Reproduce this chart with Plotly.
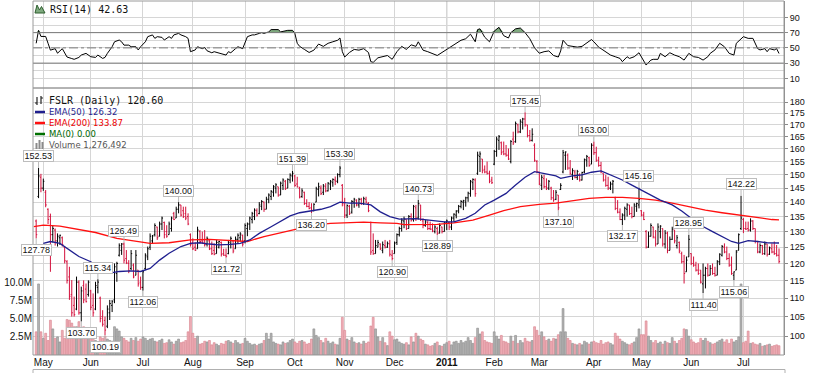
import math
import plotly.graph_objects as go

# ---------------- data (trading-day index 0 = 3 May 2010) ----------------
first_index = -3

bar_open = [
    133.5, 142.0, 149.0, 145.0, 143.5, 137.5, 135.0, 129.0, 130.5, 127.0,
    128.0, 128.0, 125.0, 120.5, 116.0, 111.0, 108.0, 107.0, 114.5, 106.0,
    113.5, 112.5, 111.0, 112.0, 108.0, 107.0, 113.0, 110.0, 105.0, 104.0,
    102.5, 106.0, 108.0, 109.5, 117.0, 122.5, 124.0, 126.0, 121.5, 120.0,
    118.5, 119.5, 116.5, 118.0, 114.5, 113.0, 118.5, 122.0, 125.0, 127.0,
    129.0, 131.5, 128.5, 132.5, 133.0, 130.0, 129.0, 131.0, 136.0, 134.5,
    137.5, 139.0, 137.0, 136.0, 135.0, 129.0, 126.5, 125.0, 124.5, 130.0,
    127.0, 127.0, 126.0, 127.0, 124.5, 124.0, 123.0, 125.0, 126.5, 123.0,
    122.5, 123.0, 126.0, 127.0, 124.5, 127.5, 128.0, 128.8, 127.0, 131.0,
    132.5, 134.0, 135.0, 137.0, 136.0, 138.5, 140.0, 137.5, 141.0, 142.0,
    143.5, 145.0, 145.5, 142.5, 146.0, 147.5, 145.0, 148.0, 149.5, 149.5,
    146.5, 145.0, 142.0, 143.5, 139.5, 138.5, 138.0, 137.0, 140.0, 144.5,
    145.0, 143.5, 145.5, 144.0, 146.5, 147.0, 148.0, 147.5, 150.0, 146.0,
    139.0, 135.5, 138.5, 136.5, 140.0, 140.5, 139.0, 141.0, 139.5, 141.0,
    139.5, 133.0, 124.0, 123.0, 125.0, 126.0, 124.0, 125.5, 125.0, 126.0,
    122.5, 123.0, 126.5, 129.0, 131.0, 133.5, 134.0, 131.0, 135.0, 134.0,
    138.0, 134.5, 139.0, 133.5, 132.0, 133.0, 131.0, 130.8, 130.0, 131.0,
    129.5, 131.5, 130.0, 133.0, 133.0, 131.5, 134.5, 135.5, 137.0, 138.5,
    140.0, 140.0, 141.5, 143.0, 147.0, 148.0, 150.5, 157.0, 156.0, 152.0,
    151.0, 150.5, 148.0, 154.0, 159.0, 163.5, 162.5, 159.0, 158.0, 157.5,
    155.0, 164.0, 163.0, 170.0, 167.0, 171.0, 172.5, 170.0, 165.5, 163.5,
    161.5, 155.0, 151.0, 146.0, 148.5, 145.5, 145.0, 145.0, 141.5, 141.0,
    142.5, 144.5, 151.0, 157.5, 157.5, 152.5, 150.0, 151.0, 149.0, 150.0,
    148.0, 151.0, 155.5, 156.5, 154.0, 161.5, 158.5, 155.5, 153.5, 150.5,
    148.0, 146.0, 145.0, 146.5, 141.5, 137.8, 136.5, 134.0, 135.5, 137.5,
    139.0, 136.0, 135.0, 138.5, 139.0, 137.0, 135.5, 130.0, 125.0, 128.5,
    131.5, 128.0, 126.0, 130.0, 131.0, 126.0, 129.5, 124.0, 127.5, 130.5,
    125.5, 126.5, 123.0, 120.5, 117.5, 122.0, 123.0, 120.0, 119.5, 118.0,
    118.0, 114.0, 116.5, 118.5, 116.5, 118.5, 117.0, 116.5, 120.5, 122.5,
    125.0, 123.5, 121.5, 119.5, 116.5, 118.0, 124.0, 131.0, 134.0, 131.0,
    131.0, 130.5, 133.5, 131.0, 126.8, 123.5, 125.5, 123.0, 126.0, 122.8,
    124.5, 123.5, 123.0, 122.5,
]
bar_high = [
    134.0, 152.53, 150.3, 148.5, 144.3, 137.8, 136.0, 132.0, 131.0, 129.4,
    129.0, 128.4, 125.2, 121.0, 119.0, 115.1, 110.4, 116.1, 115.0, 113.2,
    115.0, 114.1, 115.0, 112.3, 111.3, 114.6, 115.34, 110.4, 106.7, 105.0,
    108.0, 109.5, 109.5, 120.0, 120.5, 126.2, 126.3, 126.49, 124.1, 121.0,
    124.1, 120.0, 124.1, 118.0, 116.1, 118.0, 123.1, 125.2, 129.4, 128.9,
    132.7, 131.6, 133.3, 135.0, 133.3, 132.1, 133.3, 135.0, 136.6, 138.4,
    140.0, 139.0, 138.4, 138.4, 136.1, 129.4, 127.8, 126.5, 131.6, 130.5,
    130.0, 130.5, 128.4, 127.3, 126.8, 126.2, 127.3, 127.0, 126.8, 124.5,
    124.6, 127.3, 128.4, 127.3, 128.4, 129.4, 129.8, 129.0, 132.7, 133.0,
    135.0, 136.6, 137.8, 137.8, 140.0, 140.7, 140.2, 141.9, 143.1, 144.3,
    146.1, 146.8, 145.5, 147.4, 148.6, 148.0, 148.6, 150.5, 151.39, 149.9,
    149.2, 145.5, 144.9, 143.7, 141.0, 140.0, 139.6, 139.6, 145.5, 147.0,
    146.0, 146.5, 146.8, 147.2, 148.0, 148.6, 149.3, 150.5, 153.3, 146.5,
    141.5, 139.2, 139.0, 140.7, 141.5, 141.0, 141.5, 141.5, 141.9, 141.9,
    140.0, 133.3, 129.4, 127.3, 127.3, 126.2, 126.8, 127.3, 126.8, 127.3,
    124.1, 126.8, 129.4, 131.6, 134.4, 135.0, 134.0, 135.5, 136.1, 139.0,
    139.0, 140.73, 139.0, 134.4, 133.8, 133.8, 133.3, 132.7, 132.1, 131.6,
    132.7, 131.6, 133.3, 134.0, 133.3, 135.0, 136.1, 137.2, 139.0, 140.7,
    140.8, 141.9, 143.7, 148.0, 148.6, 148.6, 158.9, 159.0, 156.0, 153.5,
    155.0, 151.5, 149.2, 159.6, 165.0, 165.7, 163.0, 163.0, 161.6, 160.2,
    163.6, 167.1, 171.4, 170.5, 172.4, 173.0, 175.45, 170.0, 167.8, 168.5,
    162.3, 155.6, 151.1, 149.9, 149.9, 148.6, 148.0, 145.5, 144.3, 144.3,
    142.5, 146.8, 159.6, 159.0, 158.2, 155.6, 152.4, 151.8, 151.8, 150.5,
    151.1, 156.2, 157.6, 156.9, 162.3, 163.0, 160.9, 156.9, 154.9, 150.5,
    149.9, 149.2, 147.4, 148.0, 141.9, 140.7, 137.8, 136.1, 138.4, 139.6,
    139.0, 138.4, 139.6, 139.8, 145.16, 137.2, 136.6, 130.5, 130.0, 132.7,
    131.6, 130.5, 132.7, 132.1, 131.0, 130.5, 130.0, 128.4, 131.6, 130.5,
    128.9, 126.8, 123.6, 122.6, 122.1, 128.95, 123.1, 122.1, 120.5, 120.0,
    118.0, 120.0, 119.0, 120.0, 119.5, 120.0, 119.0, 121.0, 123.1, 125.7,
    126.2, 125.2, 123.1, 122.1, 117.6, 124.1, 129.4, 142.22, 134.5, 133.3,
    133.3, 134.4, 133.8, 131.0, 127.0, 126.2, 125.7, 126.8, 126.0, 125.2,
    126.2, 126.8, 125.7, 124.6,
]
bar_low = [
    127.78, 141.4, 143.5, 144.0, 138.2, 132.5, 117.5, 126.5, 125.5, 125.2,
    125.7, 125.2, 120.0, 114.1, 109.5, 105.0, 105.0, 106.7, 105.5, 103.7,
    108.6, 108.8, 110.4, 106.7, 105.0, 106.7, 111.3, 103.5, 102.4, 100.19,
    102.0, 104.1, 106.2, 108.6, 114.6, 122.1, 122.6, 120.0, 119.8, 117.1,
    118.0, 115.6, 116.5, 113.2, 112.3, 112.06, 118.0, 121.0, 124.1, 126.2,
    128.4, 127.3, 128.4, 130.5, 127.8, 128.0, 129.0, 130.0, 133.8, 134.5,
    136.1, 135.0, 134.5, 133.8, 132.1, 125.2, 124.1, 123.8, 124.5, 126.2,
    126.0, 125.2, 125.2, 124.1, 122.6, 122.5, 123.0, 124.6, 122.1, 122.3,
    121.72, 122.8, 124.6, 123.1, 124.5, 126.2, 126.8, 125.2, 126.2, 128.5,
    130.5, 132.7, 133.8, 135.0, 135.8, 137.2, 136.6, 137.5, 139.6, 140.7,
    141.9, 143.1, 141.9, 142.5, 144.3, 144.3, 145.0, 146.8, 147.4, 145.5,
    145.2, 141.3, 141.5, 139.0, 138.2, 137.5, 136.2, 136.8, 140.0, 142.0,
    142.5, 142.5, 143.5, 143.8, 144.3, 145.5, 146.1, 146.8, 149.0, 138.5,
    134.5, 134.5, 135.5, 136.0, 138.0, 138.5, 138.0, 139.0, 139.0, 139.5,
    136.5, 122.6, 122.6, 123.0, 125.0, 124.1, 123.1, 124.6, 124.8, 122.1,
    120.9, 123.0, 125.7, 128.4, 130.0, 131.1, 130.5, 131.0, 133.3, 133.3,
    133.5, 134.0, 133.5, 131.1, 131.6, 130.5, 130.5, 129.8, 129.4, 128.89,
    129.4, 129.4, 130.0, 130.5, 130.5, 130.5, 133.3, 134.4, 136.1, 137.8,
    137.2, 138.4, 140.1, 141.9, 144.3, 141.9, 149.9, 151.0, 150.5, 150.5,
    150.0, 146.8, 146.5, 153.6, 156.9, 159.6, 157.6, 157.5, 156.9, 155.6,
    154.3, 161.6, 162.5, 166.4, 166.5, 168.0, 169.2, 164.7, 162.9, 163.0,
    154.9, 150.5, 146.1, 144.3, 144.9, 144.3, 144.3, 140.7, 140.1, 140.7,
    137.1, 144.3, 150.5, 151.8, 151.8, 149.9, 148.0, 148.6, 148.0, 147.4,
    147.8, 150.5, 153.0, 153.0, 154.0, 157.6, 154.9, 153.0, 150.5, 147.4,
    145.5, 144.3, 144.3, 143.1, 137.2, 136.1, 133.8, 132.17, 133.8, 135.0,
    135.5, 134.4, 135.0, 136.6, 137.8, 135.0, 133.8, 124.6, 124.8, 128.4,
    127.8, 125.2, 126.0, 127.8, 125.2, 124.6, 123.1, 124.0, 127.3, 126.2,
    124.6, 123.1, 120.0, 114.1, 117.5, 122.0, 119.5, 119.0, 117.6, 116.6,
    114.1, 111.4, 112.7, 116.1, 116.5, 116.6, 116.1, 116.5, 119.5, 122.1,
    123.1, 121.0, 119.0, 116.6, 115.06, 118.0, 124.0, 130.5, 129.5, 130.5,
    130.0, 130.0, 130.5, 126.2, 123.1, 123.1, 122.6, 122.6, 122.1, 122.6,
    123.1, 122.6, 122.1, 120.0,
]
bar_close = [
    129.0, 149.5, 145.0, 147.5, 139.0, 134.0, 129.0, 131.0, 127.0, 128.5,
    128.8, 125.8, 120.8, 115.0, 110.5, 106.0, 105.5, 114.5, 106.0, 112.0,
    109.5, 109.0, 114.5, 107.5, 106.0, 113.5, 114.5, 104.5, 103.0, 101.5,
    107.0, 108.5, 109.0, 119.0, 120.0, 125.5, 126.0, 121.0, 120.2, 117.8,
    123.0, 116.0, 122.5, 114.0, 113.0, 117.5, 122.5, 124.5, 128.5, 128.6,
    132.0, 128.0, 132.5, 134.5, 129.0, 128.5, 132.5, 134.5, 134.0, 137.5,
    139.0, 135.5, 135.0, 134.5, 132.5, 125.8, 124.5, 124.0, 130.5, 126.8,
    126.5, 125.8, 127.8, 124.5, 123.0, 122.8, 126.5, 126.8, 122.8, 122.5,
    122.2, 126.5, 127.8, 123.8, 127.5, 128.8, 129.2, 126.0, 132.0, 132.5,
    134.5, 136.0, 137.2, 135.5, 139.0, 140.2, 137.5, 141.0, 142.5, 143.8,
    145.5, 146.2, 142.5, 146.8, 148.0, 144.8, 148.2, 149.8, 150.5, 146.0,
    145.5, 141.8, 144.0, 139.5, 138.5, 137.8, 137.0, 139.2, 144.8, 145.5,
    143.0, 145.8, 144.0, 146.8, 147.5, 148.2, 147.6, 150.0, 152.5, 139.5,
    135.5, 138.8, 136.0, 140.2, 141.0, 139.0, 141.0, 139.5, 141.2, 140.0,
    137.0, 123.5, 123.0, 125.5, 126.5, 124.5, 125.8, 125.0, 126.2, 122.8,
    121.5, 126.3, 129.0, 131.0, 133.8, 134.2, 131.0, 135.0, 133.8, 138.5,
    134.5, 139.5, 134.0, 132.0, 133.5, 131.0, 130.8, 130.2, 131.5, 129.5,
    132.0, 130.0, 132.8, 133.5, 131.5, 134.5, 135.8, 136.8, 138.5, 140.2,
    140.5, 141.5, 143.2, 147.5, 148.2, 143.0, 157.5, 158.0, 151.5, 151.0,
    150.5, 147.5, 147.0, 159.0, 164.0, 165.0, 158.5, 158.0, 157.5, 156.0,
    163.0, 162.5, 170.5, 167.0, 171.5, 172.5, 170.0, 165.5, 163.5, 166.0,
    155.5, 151.0, 146.5, 149.0, 145.5, 145.0, 147.5, 141.5, 140.8, 143.5,
    138.0, 146.0, 158.5, 158.8, 152.5, 150.5, 151.5, 149.0, 151.2, 148.0,
    150.8, 155.8, 157.0, 153.5, 161.5, 158.5, 155.5, 153.5, 151.0, 148.0,
    146.0, 145.0, 146.5, 147.5, 137.8, 136.5, 134.0, 135.5, 137.8, 139.0,
    136.0, 135.0, 139.0, 139.5, 141.0, 135.5, 134.0, 125.0, 128.5, 132.0,
    128.3, 126.0, 131.5, 131.8, 126.0, 129.5, 124.0, 127.5, 130.8, 127.0,
    128.0, 123.8, 120.5, 117.0, 121.0, 127.5, 120.0, 119.5, 118.0, 117.0,
    114.5, 116.5, 118.5, 116.5, 118.5, 117.0, 116.5, 120.5, 122.8, 125.2,
    123.5, 121.5, 119.5, 117.0, 117.5, 123.5, 129.0, 134.5, 131.0, 130.8,
    130.5, 133.5, 131.0, 126.8, 123.5, 125.5, 123.0, 126.0, 122.8, 124.8,
    123.5, 123.0, 122.5, 120.6,
]
volume_m = [
    3.2, 9.8, 3.2, 2.3, 3.0, 2.0, 4.8, 3.6, 2.3, 2.5,
    1.8, 3.4, 2.3, 4.9, 4.8, 4.4, 3.9, 3.9, 4.6, 2.7,
    3.9, 3.0, 3.2, 2.5, 2.3, 2.0, 1.8, 2.5, 2.3, 2.6,
    2.2, 2.0, 1.9, 3.9, 3.6, 3.3, 2.5, 2.3, 2.0, 1.8,
    2.3, 2.0, 2.4, 1.9, 2.2, 2.5, 2.3, 2.0, 2.2, 2.3,
    1.9, 1.8, 2.0, 2.2, 1.6, 1.7, 2.1, 1.8, 1.5, 1.9,
    2.2, 1.7, 1.8, 2.0, 3.2, 5.3, 3.0, 2.3, 2.6, 1.5,
    1.6, 1.9, 1.8, 2.0, 1.4, 1.7, 1.5, 1.3, 1.6, 1.5,
    1.9, 2.0, 1.8, 1.6, 2.0, 1.7, 1.5, 1.6, 2.3, 1.9,
    1.6, 1.4, 1.5, 1.3, 1.5, 1.6, 2.0, 3.0, 2.2, 3.0,
    1.8, 1.6, 1.5, 1.4, 1.8, 1.6, 1.7, 2.0, 2.2, 1.8,
    1.6, 1.9, 2.0, 1.8, 1.5, 1.6, 2.2, 3.6, 2.7, 2.4,
    2.0, 1.7, 2.3, 1.9, 1.6, 1.8, 1.5, 1.4, 2.3, 5.2,
    3.4, 2.2, 2.0, 2.4, 1.8, 1.6, 1.7, 1.5, 1.9, 1.6,
    1.8, 4.0, 5.2, 3.6, 2.5, 1.9, 2.4, 1.7, 1.3, 3.2,
    2.6, 2.1, 2.2, 1.8, 1.6, 1.5, 1.7, 1.4, 2.5, 1.8,
    3.0, 2.6, 2.2, 2.0, 1.5, 1.4, 1.2, 1.3, 1.6, 1.8,
    1.3, 1.2, 1.5, 1.7, 1.9, 1.4, 1.8, 1.9, 1.6, 2.0,
    1.7, 1.9, 2.4, 2.0, 1.6, 2.4, 3.7, 2.9, 3.2, 2.0,
    1.8, 1.7, 1.6, 3.2, 2.6, 2.2, 2.7, 1.9, 1.8, 1.6,
    2.6, 1.9, 2.7, 1.6, 2.0, 1.7, 2.3, 1.9, 1.8, 2.0,
    3.9, 3.4, 2.7, 3.2, 2.5, 2.0, 2.2, 1.9, 2.3, 2.2,
    2.8, 3.2, 6.4, 3.2, 2.3, 2.0, 1.6, 1.5, 1.4, 1.6,
    1.4, 1.9, 1.7, 1.5, 1.8, 1.9, 1.7, 1.6, 2.0, 1.5,
    1.7, 1.8, 1.6, 1.4, 3.0, 2.6, 2.2, 1.9, 1.7, 1.5,
    1.4, 1.6, 1.8, 2.4, 3.6, 2.8, 2.8, 4.7, 2.6, 2.0,
    1.7, 2.0, 1.6, 1.8, 1.5, 1.9, 1.7, 1.6, 2.4, 1.9,
    1.6, 2.0, 2.3, 3.6, 3.5, 2.6, 2.1, 1.8, 1.6, 1.7,
    2.3, 2.0, 2.3, 1.9, 1.7, 1.5, 1.6, 1.8, 2.0, 2.2,
    1.8, 2.1, 1.6, 2.2, 1.8, 2.0, 2.5, 9.8, 1.7, 1.9,
    3.3, 1.6, 1.7, 1.5, 1.4, 1.6, 1.2, 1.3, 1.4, 1.5,
    1.2, 1.3, 1.4, 1.28,
]

ema50_idx = [0, 3, 7, 11, 15, 20, 24, 28, 32, 37, 41, 45, 49, 53, 58, 62, 66, 70, 74, 79,
             83, 87, 91, 96, 100, 104, 108, 112, 117, 121, 125, 129, 133, 138, 142, 146, 150, 157, 161, 165,
             169, 173, 178, 182, 186, 190, 195, 199, 203, 207, 211, 216, 218, 223, 227, 231, 235, 240, 244, 248,
             252, 256, 260, 265, 269, 273, 277, 282, 286, 290, 293, 297, 301, 305, 310]
ema50_val = [126.2, 126.8, 126.2, 124.1, 122.1, 120.5, 118.5, 117.1, 117.6, 117.8,
             117.6, 118.5, 121.0, 123.1, 125.2, 126.2, 126.4, 126.0, 125.7, 125.9,
             126.2, 127.3, 129.4, 131.6, 133.3, 135.2, 136.3, 136.9, 137.5, 138.4,
             140.0, 139.6, 139.6, 139.0, 136.6, 135.0, 134.1, 134.3, 134.0, 133.5,
             133.2, 133.2, 134.4, 136.1, 139.0, 140.7, 143.1, 146.1, 149.0, 151.1,
             150.3, 149.5, 148.6, 149.5, 149.9, 150.9, 151.4, 149.5, 148.0, 146.1,
             144.3, 142.5, 140.7, 139.0, 136.9, 134.4, 132.1, 130.0, 128.4, 126.8,
             126.2, 127.1, 126.8, 126.4, 126.32]

ema200_idx = [-4, 0, 7, 15, 22, 31, 42, 45, 53, 62, 70, 79, 86, 93, 100, 107, 114, 121, 128, 135,
              142, 149, 152, 159, 166, 173, 181, 188, 194, 201, 209, 216, 223, 230, 237, 244, 251, 258, 265, 272,
              279, 286, 293, 300, 307, 310]
ema200_val = [131.6, 132.1, 131.8, 130.7, 129.7, 127.8, 126.4, 126.2, 126.4, 127.3,
              127.5, 127.1, 126.8, 128.4, 129.7, 131.0, 132.1, 132.7, 132.9, 133.1,
              132.9, 132.7, 132.3, 132.3, 132.4, 132.9, 133.8, 135.5, 137.0, 138.4,
              139.2, 139.6, 140.4, 141.3, 141.7, 141.7, 141.3, 140.7, 139.6, 138.4,
              137.2, 136.3, 135.5, 134.7, 134.0, 133.87]

rsi_idx = [-3, -2, -1, 1, 2, 3, 5, 6, 8, 9, 10, 12, 13, 15, 16, 18, 19, 20, 22, 23,
           25, 26, 27, 29, 30, 32, 33, 34, 36, 37, 39, 40, 41, 43, 44, 46, 47, 48, 50, 51,
           53, 54, 55, 57, 58, 60, 61, 62, 64, 65, 67, 68, 69, 71, 72, 74, 75, 77, 78, 79,
           81, 82, 84, 85, 86, 88, 89, 91, 92, 93, 95, 96, 98, 99, 100, 102, 103, 105, 106, 107,
           108, 110, 112, 114, 116, 118, 120, 122, 124, 125, 126, 127, 129, 131, 133, 135, 137, 138, 139, 141,
           143, 145, 147, 149, 151, 153, 155, 157, 158, 160, 162, 164, 166, 168, 170, 172, 174, 176, 178, 180,
           182, 183, 184, 186, 188, 190, 192, 194, 196, 197, 199, 201, 203, 205, 207, 209, 211, 213, 215, 217,
           218, 219, 221, 223, 225, 227, 229, 231, 232, 234,
           235, 237, 239, 241, 243, 244, 246, 247, 249, 251, 253, 254, 256, 257, 259, 260, 262, 264, 266, 268,
           270, 272, 274, 276, 278, 280, 281, 283, 285, 287, 289, 291, 292, 294, 295, 297, 299, 301, 302, 304,
           305, 306, 308, 309, 310]
rsi_val = [56, 73, 65, 65, 56, 47, 49, 43, 49, 43, 38, 36, 35, 37.5, 40.6, 42.8, 40.6, 38.4, 37.5, 40.6,
           36.2, 37.5, 42.8, 51.5, 58, 60.3, 58, 53.6, 53.6, 51.5, 51.5, 47.3, 51.5, 58, 64.7, 67, 62.5, 64.7, 63.8, 60.3,
           64.7, 62.5, 67, 69, 67, 64.7, 62.5, 45, 47.3, 51.5, 49, 50.4, 46.2, 43.6, 45, 43.6, 42.8, 40.6, 45, 43.6,
           49, 51.5, 49, 58, 64.7, 67, 67, 69, 70, 69, 71, 74, 74, 74, 71, 72, 73, 73, 69, 56,
           52, 48, 44, 47, 55, 52, 56, 58, 60, 63, 45, 38, 44, 48, 47, 49, 44, 32, 31, 37,
           39, 40, 35, 45, 52, 48, 54, 52, 58, 47, 45, 43, 40, 44, 48, 52, 56, 60, 62, 68,
           58, 74, 75, 64, 58, 72, 77, 66, 63, 70, 75, 76, 70, 62, 50, 43, 45, 46, 40, 38,
           46, 60, 53, 52, 51, 52, 57, 61, 58, 51,
           49, 45, 40.6, 38.4, 36.2, 31.9, 38.4, 36.2, 38.4, 43.6, 34, 27.5, 34, 35, 35, 42.8, 38.4, 43.6, 40.6, 38.4,
           34, 42.8, 38.4, 37.5, 34, 38.4, 42.8, 47.3, 56, 51.5, 42.8, 40.6, 56, 62.5, 64.7, 62.5, 62.5, 49, 47.3, 49,
           45, 49, 47.3, 49, 42.63]

ann_idx = [-2, -3, 16, 23, 26, 34, 42, 57, 77, 105, 113, 125, 147, 158, 166, 203, 217, 232, 244, 251, 272, 278, 291, 294]
ann_val = [152.53, 127.78, 103.70, 115.34, 100.19, 126.49, 112.06, 140.00, 121.72, 151.39, 136.20, 153.30,
           120.90, 140.73, 128.89, 175.45, 137.10, 163.00, 132.17, 145.16, 128.95, 111.40, 115.06, 142.22]
ann_side = ['high', 'low', 'low', 'high', 'low', 'high', 'low', 'high', 'low', 'high', 'low', 'high',
            'low', 'high', 'low', 'high', 'low', 'high', 'low', 'high', 'high', 'low', 'low', 'high']

month_idx = [0, 20, 42, 63, 85, 106, 127, 148, 170, 190, 209, 232, 252, 273, 295]
month_lbl = ['May', 'Jun', 'Jul', 'Aug', 'Sep', 'Oct', 'Nov', 'Dec', '<b>2011</b>', 'Feb', 'Mar', 'Apr',
             'May', 'Jun', 'Jul']
price_ticks = [100, 105, 110, 115, 120, 125, 130, 135, 140, 145, 150, 155, 160, 165, 170, 175, 180]
vol_ticks = [2.5, 5.0, 7.5, 10.0]
vol_tick_lbl = ['2.5M', '5.0M', '7.5M', '10.0M']
rsi_ticks = [10, 30, 50, 70, 90]

# ---------------- geometry ----------------
W, H = 813, 373
L_PX, R_PX = 33, 784
TOP_PX, SPLIT_PX, BOT_PX = 1, 88, 355
X_RANGE = [-4.34, 312.1]


def px(x):
    return (x - L_PX) / (R_PX - L_PX)


def py(y):
    return (BOT_PX - y) / (BOT_PX - TOP_PX)


split = py(SPLIT_PX)

idx = list(range(first_index, first_index + len(bar_close)))
up = []
prev = None
for o, c in zip(bar_open, bar_close):
    up.append(c >= (o if prev is None else prev))
    prev = c

RED = '#d4103c'
fig = go.Figure()

# volume (base axis y)
fig.add_trace(go.Bar(
    x=idx, y=volume_m, width=0.8,
    marker=dict(color=['#b3b3b3' if u else '#eeb0b8' for u in up],
                line=dict(color=['#8a8a8a' if u else '#d8808c' for u in up], width=0.6)),
    xaxis='x', yaxis='y', hoverinfo='skip'))

# EMAs
fig.add_trace(go.Scatter(x=ema200_idx, y=ema200_val, mode='lines', line=dict(color='#ff1010', width=1.3),
                         xaxis='x', yaxis='y3', hoverinfo='skip'))
fig.add_trace(go.Scatter(x=ema50_idx, y=ema50_val, mode='lines', line=dict(color='#1f1f8f', width=1.3),
                         xaxis='x', yaxis='y3', hoverinfo='skip'))

# OHLC bars
for flag, col in ((True, '#000000'), (False, RED)):
    sel = [k for k, u in enumerate(up) if u == flag]
    fig.add_trace(go.Ohlc(
        x=[idx[k] for k in sel], open=[bar_open[k] for k in sel], high=[bar_high[k] for k in sel],
        low=[bar_low[k] for k in sel], close=[bar_close[k] for k in sel],
        increasing=dict(line=dict(color=col, width=1)), decreasing=dict(line=dict(color=col, width=1)),
        tickwidth=0.45, xaxis='x', yaxis='y3', hoverinfo='skip'))

# RSI
fig.add_trace(go.Scatter(x=rsi_idx, y=[70] * len(rsi_idx), mode='lines', line=dict(width=0),
                         xaxis='x2', yaxis='y2', hoverinfo='skip'))
fig.add_trace(go.Scatter(x=rsi_idx, y=[max(v, 70) for v in rsi_val], mode='lines', line=dict(width=0),
                         fill='tonexty', fillcolor='#7faa7f', xaxis='x2', yaxis='y2', hoverinfo='skip'))
fig.add_trace(go.Scatter(x=rsi_idx, y=rsi_val, mode='lines', line=dict(color='#000000', width=1),
                         xaxis='x2', yaxis='y2', hoverinfo='skip'))

GRID = '#d6d6d6'
AXF = dict(family='Liberation Sans', size=9, color='#111111')
vol_top = (BOT_PX - SPLIT_PX) / 7.25
p_lo = 4.60517 + (336 - BOT_PX) / 398
p_hi = 4.60517 + (336 - SPLIT_PX) / 398

fig.update_layout(
    width=W, height=H, margin=dict(l=L_PX, r=W - R_PX, t=TOP_PX, b=H - BOT_PX, autoexpand=False),
    paper_bgcolor='white', plot_bgcolor='white', showlegend=False, hovermode=False,
    xaxis=dict(domain=[0, 1], range=X_RANGE, anchor='y', tickvals=month_idx, ticktext=month_lbl,
               showgrid=True, gridcolor=GRID, gridwidth=1, zeroline=False, ticks='', showline=False,
               rangeslider=dict(visible=False),
               tickfont=dict(family='Liberation Sans', size=10, color='#111111')),
    xaxis2=dict(domain=[0, 1], range=X_RANGE, anchor='y2', matches='x', tickvals=month_idx,
                showticklabels=False, showgrid=True, gridcolor=GRID, zeroline=False, ticks='',
                rangeslider=dict(visible=False)),
    yaxis=dict(domain=[0, split], range=[0, vol_top], side='left', tickvals=vol_ticks, ticktext=vol_tick_lbl,
               showgrid=False, zeroline=False, ticks='', tickfont=dict(family='Liberation Sans', size=10,
                                                                        color='#111111')),
    yaxis3=dict(type='log', range=[p_lo / math.log(10), p_hi / math.log(10)], overlaying='y', anchor='x',
                side='right', tickvals=price_ticks, ticktext=[str(t) for t in price_ticks], showgrid=True,
                gridcolor=GRID, zeroline=False, ticks='outside', ticklen=3, tickcolor='#8a8a8a',
                showline=True, linecolor='#8a8a8a', tickfont=AXF),
    yaxis2=dict(domain=[split, 1], range=[-2.62, 111.5], anchor='x2', side='right', tickvals=rsi_ticks,
                showgrid=True, gridcolor=GRID, zeroline=False, ticks='outside', ticklen=3, tickcolor='#8a8a8a',
                showline=True, linecolor='#8a8a8a', tickfont=AXF,
                minor=dict(tickvals=[20, 40, 60, 80], showgrid=True, gridcolor=GRID)),
)

shapes = []
# RSI reference lines
for lvl, dash in ((70, 'solid'), (30, 'solid'), (50, 'dashdot')):
    shapes.append(dict(type='line', xref='paper', yref='y2', x0=0, x1=1, y0=lvl, y1=lvl,
                       line=dict(color='#7a7a7a', width=1, dash=dash)))
# 2011 year line
shapes.append(dict(type='line', xref='x', yref='paper', x0=170, x1=170, y0=0, y1=1, layer='below',
                   line=dict(color='#a8a8a8', width=1)))
# panel frames
for y0, y1 in ((TOP_PX, SPLIT_PX), (SPLIT_PX, BOT_PX)):
    shapes.append(dict(type='rect', xref='paper', yref='paper', x0=0, x1=1, y0=py(y1), y1=py(y0),
                       line=dict(color='#9a9a9a', width=1)))
# strip of the next panel at the very bottom
shapes.append(dict(type='line', xref='paper', yref='paper', x0=0, x1=px(785), y0=py(369.5), y1=py(369.5),
                   line=dict(color='#b0b0b0', width=1)))
shapes.append(dict(type='line', xref='paper', yref='paper', x0=px(785), x1=px(785), y0=py(369.5), y1=py(374),
                   line=dict(color='#b0b0b0', width=1)))
shapes.append(dict(type='line', xref='paper', yref='paper', x0=0, x1=0, y0=py(369.5), y1=py(374),
                   line=dict(color='#b0b0b0', width=1)))
# legend markers
for yy, col in ((112, '#1f1f8f'), (123, '#ff1010'), (134, '#007000')):
    shapes.append(dict(type='line', xref='paper', yref='paper', x0=px(35), x1=px(45), y0=py(yy), y1=py(yy),
                       line=dict(color=col, width=2.5)))
# price-bar icon
for x0, yt, yb, tx, ty in ((37, 97, 105, 35, 103), (41, 96, 104, 43, 98)):
    shapes.append(dict(type='line', xref='paper', yref='paper', x0=px(x0), x1=px(x0), y0=py(yb), y1=py(yt),
                       line=dict(color='#222222', width=1.2)))
    shapes.append(dict(type='line', xref='paper', yref='paper', x0=px(x0), x1=px(tx), y0=py(ty), y1=py(ty),
                       line=dict(color='#222222', width=1)))
# volume icon
for x0, yt in ((35.5, 143), (38.5, 140), (41.5, 142)):
    shapes.append(dict(type='rect', xref='paper', yref='paper', x0=px(x0), x1=px(x0 + 2), y0=py(149), y1=py(yt),
                       fillcolor='#8a8a8a', line=dict(width=0)))
# RSI icon
pts = [(35, 13), (37, 5), (39.5, 10), (41.5, 6.5), (45, 13)]
path = 'M ' + ' L '.join(f'{px(a):.5f},{py(b):.5f}' for a, b in pts) + ' Z'
shapes.append(dict(type='path', xref='paper', yref='paper', path=path, fillcolor='#7faa7f',
                   line=dict(color='#2f5f2f', width=1)))
fig.update_layout(shapes=shapes)

ann = []
for i, v, side in zip(ann_idx, ann_val, ann_side):
    ann.append(dict(x=i, y=math.log10(v), xref='x', yref='y3', text=f'{v:.2f}', showarrow=True,
                    arrowhead=0, arrowwidth=1, arrowcolor='#b8b8b8', ax=0, ay=-11.5 if side == 'high' else 11.5,
                    standoff=0, bgcolor='white', bordercolor='#bdbdbd', borderwidth=1, borderpad=0.5, height=9,
                    font=dict(family='Liberation Sans', size=9, color='#111111')))
legend_lines = [
    ('RSI(14) 42.63', 48, 9.5, 'DejaVu Sans Mono', 10, '#111111'),
    ('FSLR (Daily) 120.60', 46.5, 101, 'DejaVu Sans Mono', 10, '#111111'),
    ('EMA(50) 126.32', 46.5, 112, 'DejaVu Sans', 8.5, '#1f1f8f'),
    ('EMA(200) 133.87', 46.5, 123, 'DejaVu Sans', 8.5, '#ee0000'),
    ('MA(0) 0.00', 46.5, 134, 'DejaVu Sans', 8.5, '#006600'),
    ('Volume 1,276,492', 46.5, 145, 'DejaVu Sans', 8.5, '#555555'),
]
for txt, x0, y0, fam, sz, col in legend_lines:
    ann.append(dict(x=px(x0), y=py(y0), xref='paper', yref='paper', text=txt, showarrow=False,
                    xanchor='left', yanchor='middle', font=dict(family=fam, size=sz, color=col)))
fig.update_layout(annotations=ann)

fig.write_html('out.html', config={'displayModeBar': False, 'staticPlot': True},
               post_script="document.body.style.margin='0px';document.body.style.overflow='hidden';")
